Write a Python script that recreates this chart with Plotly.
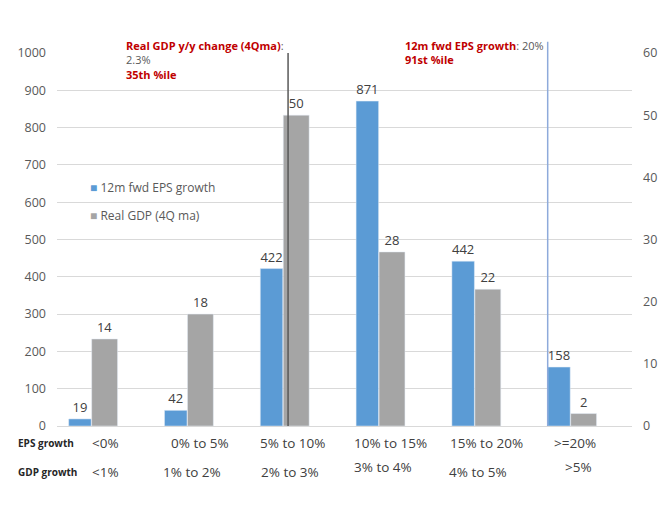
import plotly.graph_objects as go

# ---- data ----
categories = ["<0%", "0% to 5%", "5% to 10%", "10% to 15%", "15% to 20%", ">=20%"]
gdp_categories = ["<1%", "1% to 2%", "2% to 3%", "3% to 4%", "4% to 5%", ">5%"]
eps_counts = [19, 42, 422, 871, 442, 158]
gdp_counts = [14, 18, 50, 28, 22, 2]
left_ticks = list(range(0, 1001, 100))
right_ticks = list(range(0, 61, 10))

# marker line positions (in category-axis units)
gdp_marker_x = 2.05
eps_marker_x = 4.76

BLUE = "#5b9bd5"
GRAY = "#a5a5a5"
RED = "#c00000"
TXT = "#595959"
FONT = "Open Sans"

x_idx = list(range(len(categories)))

fig = go.Figure()
fig.add_trace(go.Bar(
    x=x_idx, y=eps_counts, name="12m fwd EPS growth", marker_color=BLUE,
    offset=-0.24, width=0.235, text=[str(v) for v in eps_counts],
    textposition="outside", textfont=dict(size=13, color="#404040", family=FONT),
    cliponaxis=False, showlegend=False, yaxis="y"))
fig.add_trace(go.Bar(
    x=x_idx, y=gdp_counts, name="Real GDP (4Q ma)", marker_color=GRAY,
    offset=0.0, width=0.27, text=[str(v) for v in gdp_counts],
    textposition="outside", textfont=dict(size=13, color="#404040", family=FONT),
    cliponaxis=False, showlegend=False, yaxis="y2"))

# legend entries with small square glyphs placed tight to the text
fig.add_trace(go.Scatter(x=[None], y=[None], mode="markers",
                         name=f"<span style='color:{BLUE};font-size:12px'>■</span> 12m fwd EPS growth",
                         marker=dict(symbol="square", size=1, color="rgba(0,0,0,0)"), legendgroup="a"))
fig.add_trace(go.Scatter(x=[None], y=[None], mode="markers",
                         name=f"<span style='color:{GRAY};font-size:12px'>■</span> Real GDP (4Q ma)",
                         marker=dict(symbol="square", size=1, color="rgba(0,0,0,0)"), legendgroup="b"))

shapes = [
    dict(type="line", xref="x", yref="paper", x0=gdp_marker_x, x1=gdp_marker_x, y0=0, y1=1.0,
         line=dict(color="#595959", width=1.5)),
    dict(type="line", xref="x", yref="paper", x0=eps_marker_x, x1=eps_marker_x, y0=0, y1=1.03,
         line=dict(color="#8eaadb", width=1.5)),
]

annotations = [
    dict(xref="paper", yref="paper", x=0.1165, y=1.045, xanchor="left", yanchor="top",
         align="left", showarrow=False, font=dict(size=11, color=TXT, family=FONT),
         text=f"<b><span style='color:{RED}'>Real GDP y/y change (4Qma)</span></b>:<br>2.3%<br>"
              f"<b><span style='color:{RED}'>35th %ile</span></b>"),
    dict(xref="paper", yref="paper", x=0.602, y=1.045, xanchor="left", yanchor="top",
         align="left", showarrow=False, font=dict(size=11, color=TXT, family=FONT),
         text=f"<b><span style='color:{RED}'>12m fwd EPS growth</span></b>: 20%<br>"
              f"<b><span style='color:{RED}'>91st %ile</span></b>"),
    dict(xref="paper", yref="paper", x=-0.072, y=-0.046, xanchor="left", yanchor="middle",
         showarrow=False, text="<b>EPS growth</b>", font=dict(size=10, color="#262626", family=FONT)),
    dict(xref="paper", yref="paper", x=-0.072, y=-0.124, xanchor="left", yanchor="middle",
         showarrow=False, text="<b>GDP growth</b>", font=dict(size=10, color="#262626", family=FONT)),
]

eps_label_offsets = [0.14, 0.13, 0.10, 0.12, 0.12, 0.04]
gdp_label_offsets = [0.14, 0.05, 0.07, 0.04, 0.03, 0.08]
gdp_label_y = [-0.124, -0.124, -0.124, -0.11, -0.124, -0.11]
for i, lab in enumerate(categories):
    annotations.append(dict(xref="x", yref="paper", x=i + eps_label_offsets[i], y=-0.046,
                            xanchor="center", yanchor="middle", showarrow=False, text=lab,
                            font=dict(size=13.5, color="#404040", family=FONT)))
for i, lab in enumerate(gdp_categories):
    annotations.append(dict(xref="x", yref="paper", x=i + gdp_label_offsets[i], y=gdp_label_y[i],
                            xanchor="center", yanchor="middle", showarrow=False, text=lab,
                            font=dict(size=13.5, color="#404040", family=FONT)))

fig.update_layout(
    width=663, height=514,
    margin=dict(l=57, r=31, t=53, b=88, autoexpand=False),
    paper_bgcolor="white", plot_bgcolor="white",
    barmode="overlay",
    font=dict(family=FONT, size=12, color=TXT),
    xaxis=dict(range=[-0.362, 5.64], showticklabels=False, showgrid=False, zeroline=False,
               showline=False, ticks="", automargin=False),
    yaxis=dict(range=[0, 1000], tickvals=left_ticks, showgrid=True, gridcolor="#d9d9d9",
               gridwidth=1, zeroline=True, zerolinecolor="#d9d9d9", zerolinewidth=1,
               showline=False, ticks="", ticklabelstandoff=10, automargin=False,
               tickfont=dict(size=12.5, color=TXT, family=FONT)),
    yaxis2=dict(range=[0, 60], tickvals=right_ticks, overlaying="y", side="right",
                showgrid=False, zeroline=False, showline=False, ticks="", ticklabelstandoff=10,
                automargin=False, tickfont=dict(size=12.5, color=TXT, family=FONT)),
    legend=dict(x=-0.012, y=0.68, xanchor="left", yanchor="top", bgcolor="rgba(0,0,0,0)",
                font=dict(size=12, color=TXT, family=FONT), tracegroupgap=9,
                itemwidth=30),
    shapes=shapes,
    annotations=annotations,
)

fig.write_html("out.html")
